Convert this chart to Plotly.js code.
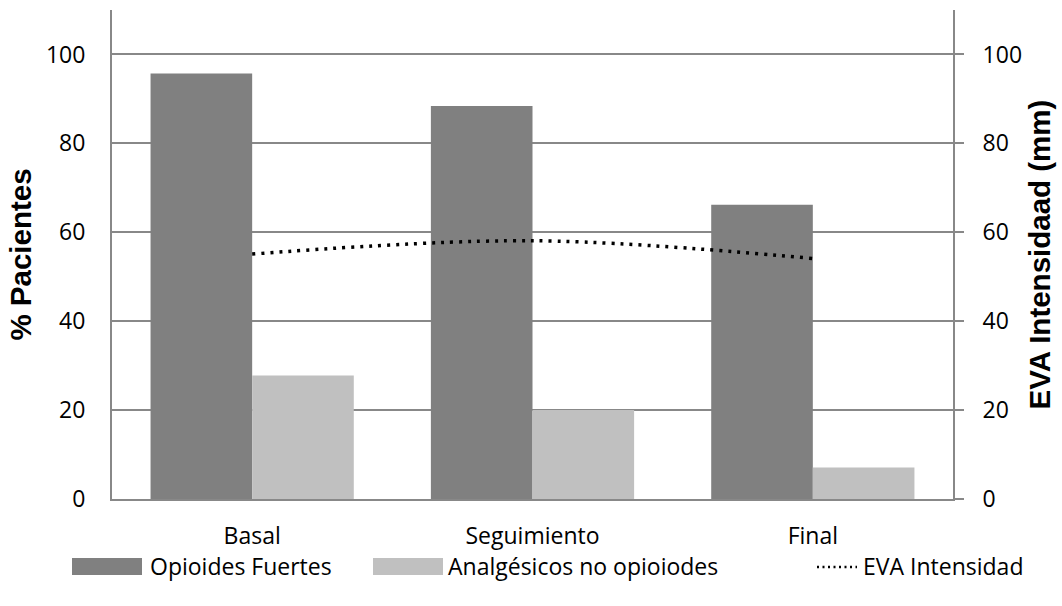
<!DOCTYPE html>
<html>
<head>
<meta charset="utf-8">
<script src="https://cdn.plot.ly/plotly-3.0.1.min.js"></script>
<style>
  html, body { margin: 0; padding: 0; background: #fff; }
  #chart { width: 1062px; height: 606px; }
</style>
</head>
<body>
<div id="chart"></div>
<script>
// Treatment phases
const categories = ['Basal', 'Seguimiento', 'Final'];
// % of patients on each analgesic type
const opioidesFuertes = [95.7, 88.4, 66.2];
const analgesicosNoOpioides = [27.8, 20.0, 7.1];
// Mean VAS pain intensity (mm)
const evaIntensidad = [55.1, 58.1, 54.1];

const seriesNames = ['Opioides Fuertes', 'Analgésicos no opioiodes', 'EVA Intensidad'];
const yTicks = [0, 20, 40, 60, 80, 100];

const DARK = '#808080';
const LIGHT = '#c0c0c0';
const GRID = '#888888';
const FONT = 'Open Sans, Noto Sans, sans-serif';
const TITLE_FONT = 'Liberation Sans, Arial, sans-serif';
const FS = 23;

const W = 1062, H = 606;
const M = { l: 112, r: 109, t: 10, b: 107 };
const PW = W - M.l - M.r, PH = H - M.t - M.b;
// pixel position -> paper coordinates (for the legend drawn below the axes)
const px = x => (x - M.l) / PW;
const py = y => (H - M.b - y) / PH;

const traces = [
  {
    type: 'bar', name: seriesNames[0], x: categories, y: opioidesFuertes,
    marker: { color: DARK, line: { width: 0 } }, yaxis: 'y', showlegend: false
  },
  {
    type: 'bar', name: seriesNames[1], x: categories, y: analgesicosNoOpioides,
    marker: { color: LIGHT, line: { width: 0 } }, yaxis: 'y', showlegend: false
  },
  {
    type: 'scatter', mode: 'lines', name: seriesNames[2], x: categories, y: evaIntensidad,
    line: { color: '#000', width: 3.5, dash: '3px,6px', shape: 'spline', smoothing: 1 },
    yaxis: 'y2', showlegend: false
  }
];

// Legend entries below the plot
const legendY = 566;
const shapes = [
  { type: 'rect', xref: 'paper', yref: 'paper', x0: px(72), x1: px(142), y0: py(575), y1: py(558),
    fillcolor: DARK, line: { width: 0 } },
  { type: 'rect', xref: 'paper', yref: 'paper', x0: px(373), x1: px(443), y0: py(575), y1: py(558),
    fillcolor: LIGHT, line: { width: 0 } },
  { type: 'line', xref: 'paper', yref: 'paper', x0: px(817), x1: px(857), y0: py(legendY + 1), y1: py(legendY + 1),
    line: { color: '#000', width: 2.5, dash: '2px,3.5px' } }
];
const legendTextX = [148, 446, 861];
const annotations = seriesNames.map((n, i) => ({
  xref: 'paper', yref: 'paper', x: px(legendTextX[i]), y: py(legendY),
  xanchor: 'left', yanchor: 'middle', showarrow: false, text: n,
  font: { family: FONT, size: FS, color: '#000' }
}));

const layout = {
  width: W, height: H,
  margin: M,
  paper_bgcolor: '#fff', plot_bgcolor: '#fff',
  barmode: 'group', bargap: 0.275, bargroupgap: 0,
  showlegend: false,
  font: { family: FONT, size: FS, color: '#000' },
  xaxis: {
    type: 'category', showgrid: false, zeroline: false,
    showline: true, linecolor: GRID, linewidth: 2, ticks: '',
    ticklabelstandoff: 15,
    tickfont: { family: FONT, size: FS, color: '#000' }
  },
  yaxis: {
    range: [0, 110], tickvals: yTicks, ticktext: yTicks.map(String),
    showgrid: true, gridcolor: GRID, gridwidth: 2, zeroline: false,
    showline: true, linecolor: GRID, linewidth: 2, ticks: '',
    ticklabelstandoff: 20,
    tickfont: { family: FONT, size: FS, color: '#000' },
    title: { text: '% Pacientes', standoff: 6,
      font: { family: TITLE_FONT, size: 29.5, color: '#000', weight: 'bold' } }
  },
  yaxis2: {
    overlaying: 'y', side: 'right', range: [0, 110], tickvals: yTicks, ticktext: yTicks.map(String),
    showgrid: false, zeroline: false,
    showline: true, linecolor: GRID, linewidth: 2,
    ticks: 'outside', ticklen: 9, tickwidth: 2, tickcolor: GRID,
    ticklabelstandoff: 14,
    tickfont: { family: FONT, size: FS, color: '#000' },
    title: { text: 'EVA Intensidaad (mm)', standoff: 8,
      font: { family: TITLE_FONT, size: 29.5, color: '#000', weight: 'bold' } }
  },
  shapes: shapes,
  annotations: annotations
};

Plotly.newPlot('chart', traces, layout, { staticPlot: true, displayModeBar: false });
</script>
</body>
</html>
